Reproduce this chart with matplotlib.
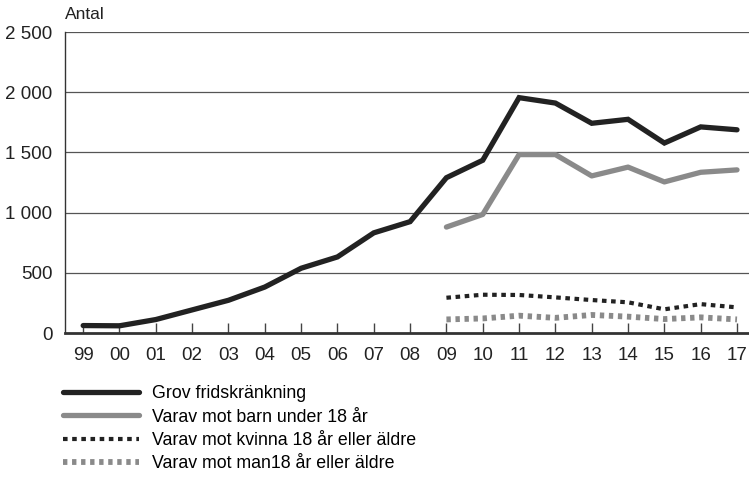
import matplotlib
matplotlib.use("Agg")
import matplotlib.pyplot as plt
import numpy as np

plt.rcParams["font.family"] = ["Liberation Sans", "DejaVu Sans"]

years = ["99", "00", "01", "02", "03", "04", "05", "06", "07", "08",
         "09", "10", "11", "12", "13", "14", "15", "16", "17"]
grov = [62, 60, 112, 192, 272, 382, 538, 632, 832, 925,
        1290, 1435, 1955, 1910, 1742, 1775, 1578, 1712, 1688]
barn = [880, 985, 1482, 1482, 1305, 1378, 1255, 1335, 1355]
kvinna = [293, 318, 316, 296, 274, 255, 197, 240, 213]
man = [113, 121, 144, 126, 150, 136, 116, 130, 113]
labels = ["Grov fridskränkning", "Varav mot barn under 18 år",
          "Varav mot kvinna 18 år eller äldre", "Varav mot man18 år eller äldre"]
yticks = [0, 500, 1000, 1500, 2000, 2500]
ytick_labels = ["0", "500", "1 000", "1 500", "2 000", "2 500"]

BLACK = "#222222"
GREY = "#8a8a8a"

fig = plt.figure(figsize=(7.49, 4.78), dpi=100)
ax = fig.add_axes([0.0868, 0.3033, 0.9132, 0.6297])

x = np.arange(len(years))
x_sub = x[len(years) - len(barn):]

for y in yticks[1:]:
    ax.axhline(y, color="#555555", lw=0.9, zorder=1)

ax.plot(x, grov, color=BLACK, lw=3.8, solid_capstyle="round", solid_joinstyle="miter", label=labels[0], zorder=3)
ax.plot(x_sub, barn, color=GREY, lw=3.8, solid_capstyle="round", label=labels[1], zorder=3)
ax.plot(x_sub, kvinna, color=BLACK, lw=3.0, linestyle=(0, (1.1, 1.1)), label=labels[2], zorder=3)
ax.plot(x_sub, man, color=GREY, lw=4.2, linestyle=(0, (0.75, 0.8)), label=labels[3], zorder=3)

ax.set_xlim(-0.5, 18.33)
ax.set_ylim(0, 2500)
ax.set_xticks(x)
ax.set_xticklabels(years)
ax.set_yticks(yticks)
ax.set_yticklabels(ytick_labels)
ax.tick_params(axis="x", direction="in", length=7, width=1, color="#444444",
               labelsize=13.5, pad=10, labelcolor="#222222")
ax.tick_params(axis="y", length=0, labelsize=13.5, pad=9, labelcolor="#222222")

for side in ["top", "right"]:
    ax.spines[side].set_visible(False)
ax.spines["left"].set_color("#333333")
ax.spines["left"].set_linewidth(1.0)
ax.spines["bottom"].set_color("#333333")
ax.spines["bottom"].set_linewidth(2.0)

fig.text(0.0868, 0.97, "Antal", fontsize=12.5, color="#222222", va="center", ha="left")

handles, labs = ax.get_legend_handles_labels()
fig.legend(handles, labs, loc="upper left", bbox_to_anchor=(0.084, 0.194),
           frameon=False, fontsize=12.8, handlelength=4.3, handletextpad=0.73,
           labelspacing=0.36, borderaxespad=0, borderpad=0)

fig.savefig("out.png", dpi=100)
